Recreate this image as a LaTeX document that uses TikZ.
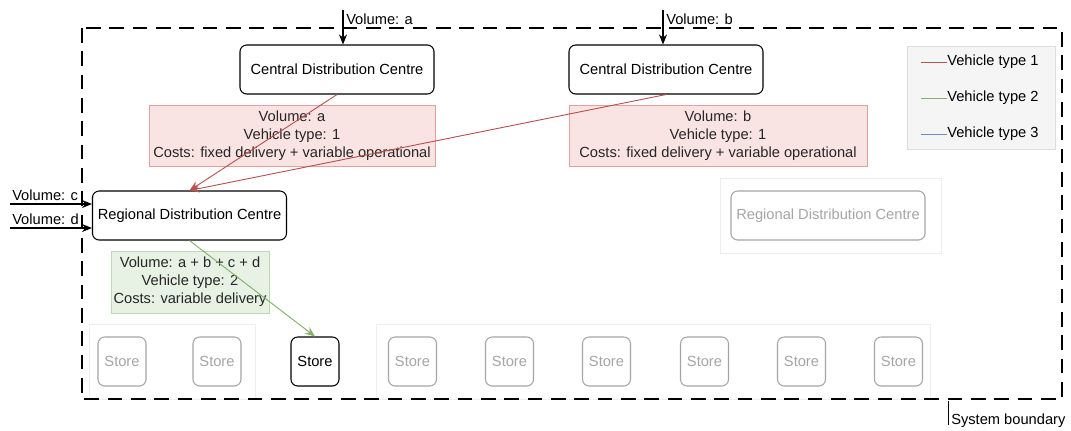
\documentclass[tikz,border=0pt]{standalone}
\usepackage{fontspec}
\setmainfont{Liberation Sans}
\usetikzlibrary{arrows.meta}
\definecolor{vone}{RGB}{184,84,80}
\definecolor{vtwo}{RGB}{130,179,102}
\definecolor{vthree}{RGB}{108,142,191}
\definecolor{redfill}{RGB}{250,227,227}
\definecolor{reddraw}{RGB}{228,160,158}
\definecolor{greenfill}{RGB}{231,241,228}
\definecolor{greendraw}{RGB}{188,218,176}
\definecolor{fadedgray}{RGB}{165,165,165}
\definecolor{groupline}{RGB}{238,238,238}
\begin{document}
\begin{tikzpicture}[x=0.75pt,y=-0.75pt,
  every node/.style={font=\fontsize{11}{13.5}\selectfont, inner sep=0pt},
  site/.style={draw=black, line width=0.8pt, rounded corners=5pt, fill=white,
    minimum width=145.5pt, minimum height=36.75pt},
  fadedsite/.style={site, draw=fadedgray, text=fadedgray},
  store/.style={draw=fadedgray, line width=0.8pt, rounded corners=5pt, fill=white,
    text=fadedgray, minimum width=36pt, minimum height=36.75pt},
  activestore/.style={store, draw=black, text=black},
  group/.style={draw=groupline, line width=0.5pt, fill=white},
  redlabel/.style={draw=reddraw, fill=redfill, line width=0.6pt, align=center,
    minimum height=45.75pt, text=black!85},
  greenlabel/.style={draw=greendraw, fill=greenfill, line width=0.6pt, align=center,
    minimum width=118.5pt, minimum height=46.5pt, text=black!85},
  flow/.style={line width=0.7pt, -{Stealth[length=7.5pt,width=6pt]}},
  inflow/.style={line width=0.8pt, black, -{Stealth[length=7.5pt,width=6pt]}},
  legline/.style={line width=0.6pt}
]
\useasboundingbox (0,0) rectangle (1071,430);

% store groups and the inactive regional centre
\node[group, minimum width=124.5pt, minimum height=56.25pt] (leftgroup) at (172,361.5) {};
\node[group, minimum width=415.5pt, minimum height=56.25pt] (rightgroup) at (653,361.5) {};
\node[group, minimum width=165.75pt, minimum height=56.25pt] (rdcgroup) at (830.5,215.5) {};
\node[fadedsite] (rdcb) at (828,215.5) {Regional Distribution Centre};

% system boundary
\draw[line width=1pt, dash pattern=on 11pt off 6.5pt] (82,28) rectangle (1062,399);
\coordinate (sbtop) at (948,401);
\coordinate (sbbot) at (948,425);
\draw[line width=0.6pt] (sbtop) -- (sbbot);
\node[anchor=base west] (sblabel) at (951,424) {System boundary};

% stores
\node[store] (s1) at (122,361.5) {Store};
\node[store] (s2) at (217,361.5) {Store};
\node[activestore] (s3) at (315,361.5) {Store};
\node[store] (s4) at (412.5,361.5) {Store};
\node[store] (s5) at (509.5,361.5) {Store};
\node[store] (s6) at (606.5,361.5) {Store};
\node[store] (s7) at (704.5,361.5) {Store};
\node[store] (s8) at (801.5,361.5) {Store};
\node[store] (s9) at (898.5,361.5) {Store};

% distribution centres
\node[site] (cdca) at (337,69.5) {Central Distribution Centre};
\node[site] (cdcb) at (666,69.5) {Central Distribution Centre};
\node[site] (rdc) at (189.5,215.5) {Regional Distribution Centre};

% flow labels
\node[redlabel, minimum width=214.5pt] (lab1) at (292,135.5)
  {Volume: a\\Vehicle type: 1\\Costs: fixed delivery + variable operational};
\node[redlabel, minimum width=223.5pt] (lab2) at (718,135.5)
  {Volume: b\\Vehicle type: 1\\Costs: fixed delivery + variable operational};
\node[greenlabel] (lab3) at (190,282)
  {Volume: a + b + c + d\\Vehicle type: 2\\Costs: variable delivery};

% flows
\draw[flow, vone] (cdca.south) -- (rdc.north);
\draw[flow, vone] (cdcb.south) -- (rdc.north);
\draw[flow, vtwo] (rdc.south) -- (s3.north);

% incoming volumes
\coordinate (ina) at (343,10);
\coordinate (inb) at (663,10);
\coordinate (inc) at (10,204);
\coordinate (ind) at (10,228);
\draw[inflow] (ina) -- (ina |- cdca.north);
\draw[inflow] (inb) -- (inb |- cdcb.north);
\draw[inflow] (inc) -- (inc -| rdc.west);
\draw[inflow] (ind) -- (ind -| rdc.west);
\node[anchor=base west] (va) at (346,24) {Volume: a};
\node[anchor=base west] (vb) at (666,24) {Volume: b};
\node[anchor=base west] (vc) at (12,200) {Volume: c};
\node[anchor=base west] (vd) at (12,224) {Volume: d};

% legend
\node[draw=black!13, fill=black!4, line width=0.6pt,
  minimum width=111pt, minimum height=77.25pt] (legend) at (981,97.5) {};
\coordinate (l1a) at (921,62);  \coordinate (l1b) at (947,62);
\coordinate (l2a) at (921,98);  \coordinate (l2b) at (947,98);
\coordinate (l3a) at (921,134); \coordinate (l3b) at (947,134);
\draw[legline, vone] (l1a) -- (l1b);
\draw[legline, vtwo] (l2a) -- (l2b);
\draw[legline, vthree] (l3a) -- (l3b);
\node[anchor=west] (lt1) at (l1b) {Vehicle type 1};
\node[anchor=west] (lt2) at (l2b) {Vehicle type 2};
\node[anchor=west] (lt3) at (l3b) {Vehicle type 3};
\end{tikzpicture}
\end{document}
